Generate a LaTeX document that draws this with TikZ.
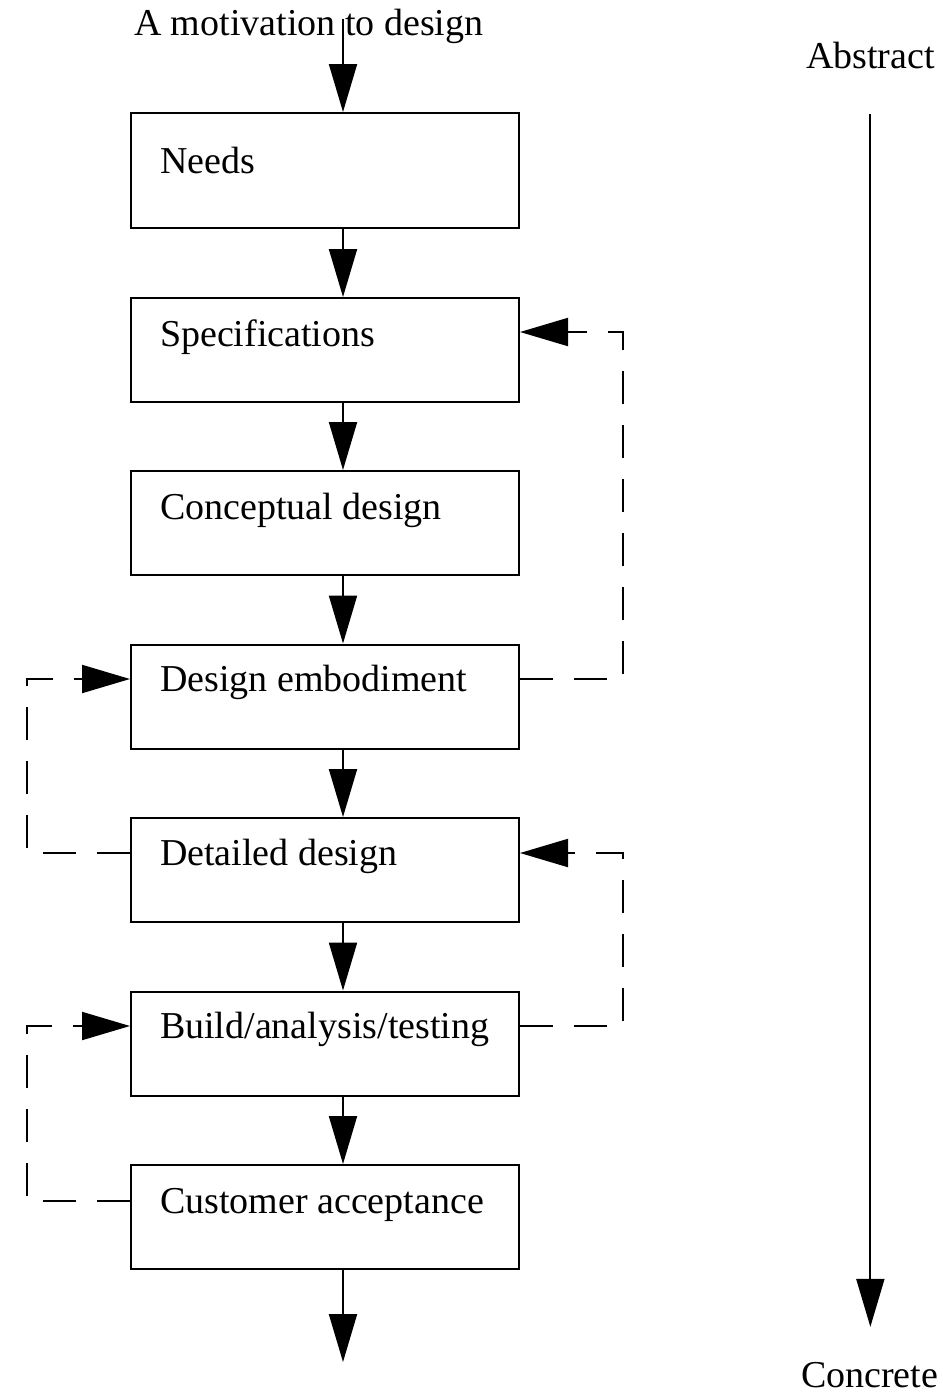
\documentclass[tikz,border=0pt]{standalone}
\usepackage{fontspec}
\setmainfont{Liberation Serif}
\usetikzlibrary{arrows.meta}

\begin{document}
\begin{tikzpicture}[x=0.5pt, y=-0.5pt, line width=1pt,
    box/.style={draw, rectangle, minimum width=194pt, minimum height=52pt, inner sep=0pt},
    lbl/.style={anchor=base west, inner sep=0pt, font=\fontsize{19}{23}\selectfont},
    flow/.style={-{Triangle[length=24pt,width=14pt]}},
    back/.style={flow, dash pattern=on 16.5pt off 10.5pt}]
        \useasboundingbox (0,0) rectangle (943,1394);
        \coordinate (mid) at (343,0);
        \coordinate (lft) at (27,0);
        \coordinate (rgt) at (623,0);
        % 绘制方框
        \node[box, minimum height=57.5pt] (needs) at (325,170.5) {};
        \node[box] (spec) at (325,350) {};
        \node[box] (conc) at (325,523) {};
        \node[box] (emb) at (325,696.5) {};
        \node[box] (det) at (325,870) {};
        \node[box] (build) at (325,1043.5) {};
        \node[box] (cust) at (325,1217) {};
        % 方框文字
        \node[lbl] (needs-t) at ([shift={(29,61)}]needs.north west) {Needs};
        \node[lbl] (spec-t) at ([shift={(29,49)}]spec.north west) {Specifications};
        \node[lbl] (conc-t) at ([shift={(29,49)}]conc.north west) {Conceptual design};
        \node[lbl] (emb-t) at ([shift={(29,48)}]emb.north west) {Design embodiment};
        \node[lbl] (det-t) at ([shift={(29,48)}]det.north west) {Detailed design};
        \node[lbl] (build-t) at ([shift={(29,48)}]build.north west) {Build/analysis/testing};
        \node[lbl] (cust-t) at ([shift={(29,49)}]cust.north west) {Customer acceptance};
        % 其他标注
        \node[lbl] (motiv) at (133,35) {A motivation to design};
        \node[lbl] (abstr) at (805,68) {Abstract};
        \node[lbl] (concr) at (800,1387) {Concrete};
        % 绘制主流程箭头
        \draw[flow, shorten <=5.5pt] (motiv.north -| mid) -- (needs.north -| mid);
        \draw[flow] (needs.south -| mid) -- (spec.north -| mid);
        \draw[flow] (spec.south -| mid) -- (conc.north -| mid);
        \draw[flow] (conc.south -| mid) -- (emb.north -| mid);
        \draw[flow] (emb.south -| mid) -- (det.north -| mid);
        \draw[flow] (det.south -| mid) -- (build.north -| mid);
        \draw[flow] (build.south -| mid) -- (cust.north -| mid);
        \coordinate (out) at (343,1362);
        \draw[flow] (cust.south -| mid) -- (out);
        % 反馈虚线的端点
        \coordinate (spec-r) at ([yshift=9pt]spec.east);
        \coordinate (emb-r) at ([yshift=8.75pt]emb.east);
        \coordinate (emb-l) at ([yshift=8.75pt]emb.west);
        \coordinate (det-r) at ([yshift=8.5pt]det.east);
        \coordinate (det-l) at ([yshift=8.5pt]det.west);
        \coordinate (build-r) at ([yshift=8.75pt]build.east);
        \coordinate (build-l) at ([yshift=8.75pt]build.west);
        \coordinate (cust-l) at ([yshift=8pt]cust.west);
        % 绘制反馈虚线
        \draw[back] (emb-r) -- (emb-r -| rgt) -- (spec-r -| rgt) -- (spec-r);
        \draw[back] (det-l) -- (det-l -| lft) -- (emb-l -| lft) -- (emb-l);
        \draw[back] (build-r) -- (build-r -| rgt) -- (det-r -| rgt) -- (det-r);
        \draw[back] (cust-l) -- (cust-l -| lft) -- (build-l -| lft) -- (build-l);
        % 抽象到具体
        \draw[flow, shorten <=22.5pt, shorten >=17pt] (abstr.south) -- (abstr.south |- concr.north);
    \end{tikzpicture}
\end{document}
